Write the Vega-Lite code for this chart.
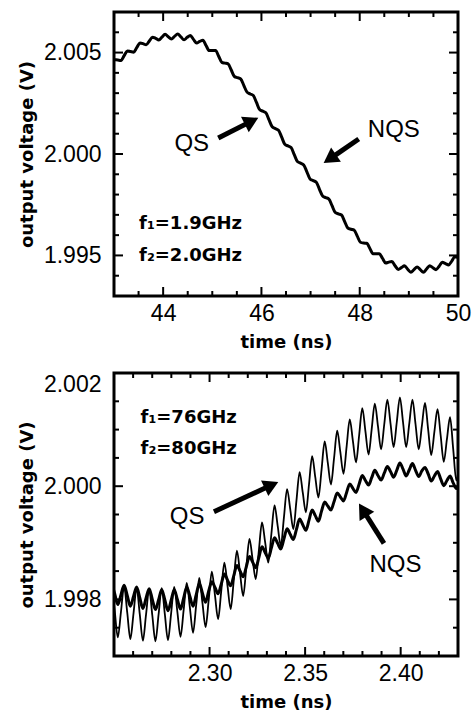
{
 "$schema": "https://vega.github.io/schema/vega-lite/v6.json",
 "background": "white",
 "padding": {"left": 16, "top": 10, "right": 0, "bottom": 5},
 "config": {
  "view": {"stroke": "black", "strokeWidth": 3},
  "axis": {"domain": false, "grid": false, "ticks": false, "labelFont": "Liberation Sans", "labelFontSize": 23, "labelColor": "black", "titleFont": "DejaVu Sans", "titleFontWeight": "bold", "titleFontSize": 18, "titleColor": "black"},
  "tick": {"opacity": 1, "color": "black", "thickness": 2}
 },
 "datasets": {
  "top": [
   {"t":43.014,"v":2.00465},{"t":43.078,"v":2.00463},{"t":43.143,"v":2.00461},{"t":43.207,"v":2.00485},
   {"t":43.271,"v":2.00508},{"t":43.335,"v":2.00505},{"t":43.399,"v":2.00502},{"t":43.463,"v":2.00524},
   {"t":43.527,"v":2.00547},{"t":43.591,"v":2.00544},{"t":43.655,"v":2.00538},{"t":43.719,"v":2.00557},
   {"t":43.784,"v":2.00576},{"t":43.848,"v":2.00570},{"t":43.912,"v":2.00562},{"t":43.976,"v":2.00576},
   {"t":44.040,"v":2.00590},{"t":44.104,"v":2.00578},{"t":44.168,"v":2.00567},{"t":44.232,"v":2.00580},
   {"t":44.296,"v":2.00591},{"t":44.361,"v":2.00577},{"t":44.425,"v":2.00563},{"t":44.489,"v":2.00575},
   {"t":44.553,"v":2.00584},{"t":44.617,"v":2.00565},{"t":44.681,"v":2.00547},{"t":44.745,"v":2.00555},
   {"t":44.809,"v":2.00561},{"t":44.873,"v":2.00535},{"t":44.937,"v":2.00510},{"t":45.002,"v":2.00510},
   {"t":45.066,"v":2.00510},{"t":45.130,"v":2.00482},{"t":45.194,"v":2.00452},{"t":45.258,"v":2.00448},
   {"t":45.322,"v":2.00444},{"t":45.386,"v":2.00414},{"t":45.450,"v":2.00382},{"t":45.514,"v":2.00376},
   {"t":45.578,"v":2.00370},{"t":45.643,"v":2.00337},{"t":45.707,"v":2.00305},{"t":45.771,"v":2.00296},
   {"t":45.835,"v":2.00288},{"t":45.899,"v":2.00254},{"t":45.963,"v":2.00219},{"t":46.027,"v":2.00211},
   {"t":46.091,"v":2.00203},{"t":46.155,"v":2.00168},{"t":46.219,"v":2.00134},{"t":46.284,"v":2.00125},
   {"t":46.348,"v":2.00117},{"t":46.412,"v":2.00083},{"t":46.476,"v":2.00048},{"t":46.540,"v":2.00040},
   {"t":46.604,"v":2.00032},{"t":46.668,"v":1.99997},{"t":46.732,"v":1.99963},{"t":46.796,"v":1.99955},
   {"t":46.860,"v":1.99946},{"t":46.925,"v":1.99912},{"t":46.989,"v":1.99877},{"t":47.053,"v":1.99869},
   {"t":47.117,"v":1.99861},{"t":47.181,"v":1.99826},{"t":47.245,"v":1.99793},{"t":47.309,"v":1.99785},
   {"t":47.373,"v":1.99778},{"t":47.437,"v":1.99745},{"t":47.501,"v":1.99712},{"t":47.566,"v":1.99705},
   {"t":47.630,"v":1.99699},{"t":47.694,"v":1.99667},{"t":47.758,"v":1.99635},{"t":47.822,"v":1.99629},
   {"t":47.886,"v":1.99625},{"t":47.950,"v":1.99595},{"t":48.014,"v":1.99565},{"t":48.078,"v":1.99561},
   {"t":48.142,"v":1.99560},{"t":48.207,"v":1.99534},{"t":48.271,"v":1.99508},{"t":48.335,"v":1.99508},
   {"t":48.399,"v":1.99508},{"t":48.463,"v":1.99486},{"t":48.527,"v":1.99463},{"t":48.591,"v":1.99467},
   {"t":48.655,"v":1.99470},{"t":48.719,"v":1.99449},{"t":48.783,"v":1.99431},{"t":48.848,"v":1.99440},
   {"t":48.912,"v":1.99449},{"t":48.976,"v":1.99432},{"t":49.040,"v":1.99417},{"t":49.104,"v":1.99430},
   {"t":49.168,"v":1.99443},{"t":49.232,"v":1.99430},{"t":49.296,"v":1.99417},{"t":49.360,"v":1.99433},
   {"t":49.424,"v":1.99449},{"t":49.489,"v":1.99439},{"t":49.553,"v":1.99430},{"t":49.617,"v":1.99447},
   {"t":49.681,"v":1.99466},{"t":49.745,"v":1.99460},{"t":49.809,"v":1.99453},{"t":49.873,"v":1.99472},
   {"t":49.937,"v":1.99494},{"t":50.001,"v":1.99490}
  ],
  "qs": [
   {"t":2.24872,"v":1.99827},{"t":2.25036,"v":1.99780},{"t":2.25200,"v":1.99733},{"t":2.25364,"v":1.99778},
   {"t":2.25528,"v":1.99823},{"t":2.25692,"v":1.99777},{"t":2.25856,"v":1.99730},{"t":2.26020,"v":1.99775},
   {"t":2.26184,"v":1.99820},{"t":2.26348,"v":1.99774},{"t":2.26512,"v":1.99727},{"t":2.26676,"v":1.99773},
   {"t":2.26840,"v":1.99818},{"t":2.27004,"v":1.99772},{"t":2.27168,"v":1.99726},{"t":2.27332,"v":1.99773},
   {"t":2.27496,"v":1.99820},{"t":2.27660,"v":1.99774},{"t":2.27824,"v":1.99728},{"t":2.27988,"v":1.99775},
   {"t":2.28152,"v":1.99822},{"t":2.28316,"v":1.99778},{"t":2.28480,"v":1.99734},{"t":2.28644,"v":1.99781},
   {"t":2.28808,"v":1.99829},{"t":2.28972,"v":1.99785},{"t":2.29136,"v":1.99741},{"t":2.29300,"v":1.99790},
   {"t":2.29464,"v":1.99838},{"t":2.29628,"v":1.99794},{"t":2.29792,"v":1.99751},{"t":2.29956,"v":1.99799},
   {"t":2.30120,"v":1.99849},{"t":2.30284,"v":1.99807},{"t":2.30448,"v":1.99765},{"t":2.30612,"v":1.99815},
   {"t":2.30776,"v":1.99865},{"t":2.30940,"v":1.99824},{"t":2.31104,"v":1.99783},{"t":2.31268,"v":1.99834},
   {"t":2.31432,"v":1.99886},{"t":2.31596,"v":1.99846},{"t":2.31760,"v":1.99806},{"t":2.31924,"v":1.99857},
   {"t":2.32088,"v":1.99907},{"t":2.32252,"v":1.99871},{"t":2.32416,"v":1.99836},{"t":2.32580,"v":1.99886},
   {"t":2.32744,"v":1.99936},{"t":2.32908,"v":1.99901},{"t":2.33072,"v":1.99865},{"t":2.33236,"v":1.99916},
   {"t":2.33400,"v":1.99966},{"t":2.33564,"v":1.99930},{"t":2.33728,"v":1.99895},{"t":2.33892,"v":1.99945},
   {"t":2.34056,"v":1.99995},{"t":2.34220,"v":1.99960},{"t":2.34384,"v":1.99924},{"t":2.34548,"v":1.99975},
   {"t":2.34712,"v":2.00025},{"t":2.34876,"v":1.99989},{"t":2.35040,"v":1.99954},{"t":2.35204,"v":2.00003},
   {"t":2.35368,"v":2.00053},{"t":2.35532,"v":2.00016},{"t":2.35696,"v":1.99980},{"t":2.35860,"v":2.00029},
   {"t":2.36024,"v":2.00079},{"t":2.36188,"v":2.00041},{"t":2.36352,"v":2.00003},{"t":2.36516,"v":2.00050},
   {"t":2.36680,"v":2.00098},{"t":2.36844,"v":2.00060},{"t":2.37008,"v":2.00022},{"t":2.37172,"v":2.00070},
   {"t":2.37336,"v":2.00118},{"t":2.37500,"v":2.00080},{"t":2.37664,"v":2.00042},{"t":2.37828,"v":2.00090},
   {"t":2.37992,"v":2.00138},{"t":2.38156,"v":2.00097},{"t":2.38320,"v":2.00056},{"t":2.38484,"v":2.00101},
   {"t":2.38648,"v":2.00146},{"t":2.38812,"v":2.00106},{"t":2.38976,"v":2.00065},{"t":2.39140,"v":2.00109},
   {"t":2.39304,"v":2.00153},{"t":2.39468,"v":2.00111},{"t":2.39632,"v":2.00069},{"t":2.39796,"v":2.00113},
   {"t":2.39960,"v":2.00157},{"t":2.40124,"v":2.00113},{"t":2.40288,"v":2.00069},{"t":2.40452,"v":2.00111},
   {"t":2.40616,"v":2.00153},{"t":2.40780,"v":2.00109},{"t":2.40944,"v":2.00065},{"t":2.41108,"v":2.00106},
   {"t":2.41272,"v":2.00147},{"t":2.41436,"v":2.00101},{"t":2.41600,"v":2.00055},{"t":2.41764,"v":2.00096},
   {"t":2.41928,"v":2.00136},{"t":2.42092,"v":2.00090},{"t":2.42256,"v":2.00043},{"t":2.42420,"v":2.00083},
   {"t":2.42584,"v":2.00122},{"t":2.42748,"v":2.00066},{"t":2.42912,"v":2.00010},{"t":2.43076,"v":2.00050}
  ],
  "nqs": [
   {"t":2.24872,"v":1.99829},{"t":2.25036,"v":1.99810},{"t":2.25200,"v":1.99791},{"t":2.25364,"v":1.99808},
   {"t":2.25528,"v":1.99825},{"t":2.25692,"v":1.99807},{"t":2.25856,"v":1.99788},{"t":2.26020,"v":1.99805},
   {"t":2.26184,"v":1.99822},{"t":2.26348,"v":1.99803},{"t":2.26512,"v":1.99784},{"t":2.26676,"v":1.99802},
   {"t":2.26840,"v":1.99819},{"t":2.27004,"v":1.99800},{"t":2.27168,"v":1.99782},{"t":2.27332,"v":1.99799},
   {"t":2.27496,"v":1.99817},{"t":2.27660,"v":1.99799},{"t":2.27824,"v":1.99780},{"t":2.27988,"v":1.99798},
   {"t":2.28152,"v":1.99817},{"t":2.28316,"v":1.99800},{"t":2.28480,"v":1.99783},{"t":2.28644,"v":1.99802},
   {"t":2.28808,"v":1.99822},{"t":2.28972,"v":1.99805},{"t":2.29136,"v":1.99788},{"t":2.29300,"v":1.99808},
   {"t":2.29464,"v":1.99828},{"t":2.29628,"v":1.99811},{"t":2.29792,"v":1.99795},{"t":2.29956,"v":1.99815},
   {"t":2.30120,"v":1.99831},{"t":2.30284,"v":1.99821},{"t":2.30448,"v":1.99810},{"t":2.30612,"v":1.99827},
   {"t":2.30776,"v":1.99845},{"t":2.30940,"v":1.99834},{"t":2.31104,"v":1.99824},{"t":2.31268,"v":1.99842},
   {"t":2.31432,"v":1.99860},{"t":2.31596,"v":1.99850},{"t":2.31760,"v":1.99840},{"t":2.31924,"v":1.99858},
   {"t":2.32088,"v":1.99876},{"t":2.32252,"v":1.99866},{"t":2.32416,"v":1.99856},{"t":2.32580,"v":1.99874},
   {"t":2.32744,"v":1.99893},{"t":2.32908,"v":1.99883},{"t":2.33072,"v":1.99873},{"t":2.33236,"v":1.99891},
   {"t":2.33400,"v":1.99909},{"t":2.33564,"v":1.99899},{"t":2.33728,"v":1.99889},{"t":2.33892,"v":1.99907},
   {"t":2.34056,"v":1.99925},{"t":2.34220,"v":1.99915},{"t":2.34384,"v":1.99906},{"t":2.34548,"v":1.99924},
   {"t":2.34712,"v":1.99942},{"t":2.34876,"v":1.99932},{"t":2.35040,"v":1.99922},{"t":2.35204,"v":1.99940},
   {"t":2.35368,"v":1.99958},{"t":2.35532,"v":1.99948},{"t":2.35696,"v":1.99938},{"t":2.35860,"v":1.99956},
   {"t":2.36024,"v":1.99972},{"t":2.36188,"v":1.99965},{"t":2.36352,"v":1.99958},{"t":2.36516,"v":1.99973},
   {"t":2.36680,"v":1.99988},{"t":2.36844,"v":1.99981},{"t":2.37008,"v":1.99974},{"t":2.37172,"v":1.99989},
   {"t":2.37336,"v":2.00004},{"t":2.37500,"v":1.99996},{"t":2.37664,"v":1.99989},{"t":2.37828,"v":2.00004},
   {"t":2.37992,"v":2.00019},{"t":2.38156,"v":2.00010},{"t":2.38320,"v":2.00002},{"t":2.38484,"v":2.00015},
   {"t":2.38648,"v":2.00028},{"t":2.38812,"v":2.00019},{"t":2.38976,"v":2.00011},{"t":2.39140,"v":2.00023},
   {"t":2.39304,"v":2.00035},{"t":2.39468,"v":2.00026},{"t":2.39632,"v":2.00016},{"t":2.39796,"v":2.00028},
   {"t":2.39960,"v":2.00041},{"t":2.40124,"v":2.00030},{"t":2.40288,"v":2.00018},{"t":2.40452,"v":2.00029},
   {"t":2.40616,"v":2.00040},{"t":2.40780,"v":2.00028},{"t":2.40944,"v":2.00017},{"t":2.41108,"v":2.00027},
   {"t":2.41272,"v":2.00033},{"t":2.41436,"v":2.00022},{"t":2.41600,"v":2.00009},{"t":2.41764,"v":2.00018},
   {"t":2.41928,"v":2.00026},{"t":2.42092,"v":2.00013},{"t":2.42256,"v":2.00001},{"t":2.42420,"v":2.00010},
   {"t":2.42584,"v":2.00018},{"t":2.42748,"v":2.00006},{"t":2.42912,"v":1.99996},{"t":2.43076,"v":2.00002}
  ],
  "notes": [
   {"panel":"top","kind":"f","x":43.51,"y":1.99653,"text":"f₁=1.9GHz"},
   {"panel":"top","kind":"f","x":43.51,"y":1.99495,"text":"f₂=2.0GHz"},
   {"panel":"top","kind":"lbl","x":44.582,"y":2.0005,"text":"QS"},
   {"panel":"top","kind":"lbl","x":48.694,"y":2.00119,"text":"NQS"},
   {"panel":"bottom","kind":"f","x":2.2639,"y":2.0012,"text":"f₁=76GHz"},
   {"panel":"bottom","kind":"f","x":2.2639,"y":2.00066,"text":"f₂=80GHz"},
   {"panel":"bottom","kind":"lbl","x":2.2883,"y":1.99946,"text":"QS"},
   {"panel":"bottom","kind":"lbl","x":2.3973,"y":1.99861,"text":"NQS"}
  ],
  "arrows": [
   {"panel":"top","id":"QS","x":45.122,"y":2.00079,"hx":45.80,"hy":2.00162},
   {"panel":"top","id":"NQS","x":47.98,"y":2.00074,"hx":47.392,"hy":1.99976},
   {"panel":"bottom","id":"QS","x":2.3023,"y":1.99955,"hx":2.3324,"hy":2.00002},
   {"panel":"bottom","id":"NQS","x":2.39126,"y":1.99899,"hx":2.38026,"hy":1.99958}
  ],
  "ticks": [
   {"p":"top","a":"x","k":"M","v":44,"e":1.993},{"p":"top","a":"x","k":"M","v":46,"e":1.993},{"p":"top","a":"x","k":"M","v":48,"e":1.993},
   {"p":"top","a":"x","k":"M","v":44,"e":2.007},{"p":"top","a":"x","k":"M","v":46,"e":2.007},{"p":"top","a":"x","k":"M","v":48,"e":2.007},
   {"p":"top","a":"x","k":"m","v":43.5,"e":1.993},{"p":"top","a":"x","k":"m","v":44.5,"e":1.993},{"p":"top","a":"x","k":"m","v":45,"e":1.993},
   {"p":"top","a":"x","k":"m","v":45.5,"e":1.993},{"p":"top","a":"x","k":"m","v":46.5,"e":1.993},{"p":"top","a":"x","k":"m","v":47,"e":1.993},
   {"p":"top","a":"x","k":"m","v":47.5,"e":1.993},{"p":"top","a":"x","k":"m","v":48.5,"e":1.993},{"p":"top","a":"x","k":"m","v":49,"e":1.993},
   {"p":"top","a":"x","k":"m","v":49.5,"e":1.993},
   {"p":"top","a":"x","k":"m","v":43.5,"e":2.007},{"p":"top","a":"x","k":"m","v":44.5,"e":2.007},{"p":"top","a":"x","k":"m","v":45,"e":2.007},
   {"p":"top","a":"x","k":"m","v":45.5,"e":2.007},{"p":"top","a":"x","k":"m","v":46.5,"e":2.007},{"p":"top","a":"x","k":"m","v":47,"e":2.007},
   {"p":"top","a":"x","k":"m","v":47.5,"e":2.007},{"p":"top","a":"x","k":"m","v":48.5,"e":2.007},{"p":"top","a":"x","k":"m","v":49,"e":2.007},
   {"p":"top","a":"x","k":"m","v":49.5,"e":2.007},
   {"p":"top","a":"y","k":"M","v":1.995,"e":43},{"p":"top","a":"y","k":"M","v":2.0,"e":43},{"p":"top","a":"y","k":"M","v":2.005,"e":43},
   {"p":"top","a":"y","k":"M","v":1.995,"e":50},{"p":"top","a":"y","k":"M","v":2.0,"e":50},{"p":"top","a":"y","k":"M","v":2.005,"e":50},
   {"p":"top","a":"y","k":"m","v":1.994,"e":43},{"p":"top","a":"y","k":"m","v":1.996,"e":43},{"p":"top","a":"y","k":"m","v":1.997,"e":43},
   {"p":"top","a":"y","k":"m","v":1.998,"e":43},{"p":"top","a":"y","k":"m","v":1.999,"e":43},{"p":"top","a":"y","k":"m","v":2.001,"e":43},
   {"p":"top","a":"y","k":"m","v":2.002,"e":43},{"p":"top","a":"y","k":"m","v":2.003,"e":43},{"p":"top","a":"y","k":"m","v":2.004,"e":43},
   {"p":"top","a":"y","k":"m","v":2.006,"e":43},
   {"p":"top","a":"y","k":"m","v":1.994,"e":50},{"p":"top","a":"y","k":"m","v":1.996,"e":50},{"p":"top","a":"y","k":"m","v":1.997,"e":50},
   {"p":"top","a":"y","k":"m","v":1.998,"e":50},{"p":"top","a":"y","k":"m","v":1.999,"e":50},{"p":"top","a":"y","k":"m","v":2.001,"e":50},
   {"p":"top","a":"y","k":"m","v":2.002,"e":50},{"p":"top","a":"y","k":"m","v":2.003,"e":50},{"p":"top","a":"y","k":"m","v":2.004,"e":50},
   {"p":"top","a":"y","k":"m","v":2.006,"e":50},
   {"p":"bottom","a":"x","k":"M","v":2.30,"e":1.997},{"p":"bottom","a":"x","k":"M","v":2.35,"e":1.997},{"p":"bottom","a":"x","k":"M","v":2.40,"e":1.997},
   {"p":"bottom","a":"x","k":"M","v":2.30,"e":2.002},{"p":"bottom","a":"x","k":"M","v":2.35,"e":2.002},{"p":"bottom","a":"x","k":"M","v":2.40,"e":2.002},
   {"p":"bottom","a":"x","k":"m","v":2.26,"e":1.997},{"p":"bottom","a":"x","k":"m","v":2.27,"e":1.997},{"p":"bottom","a":"x","k":"m","v":2.28,"e":1.997},
   {"p":"bottom","a":"x","k":"m","v":2.29,"e":1.997},{"p":"bottom","a":"x","k":"m","v":2.31,"e":1.997},{"p":"bottom","a":"x","k":"m","v":2.32,"e":1.997},
   {"p":"bottom","a":"x","k":"m","v":2.33,"e":1.997},{"p":"bottom","a":"x","k":"m","v":2.34,"e":1.997},{"p":"bottom","a":"x","k":"m","v":2.36,"e":1.997},
   {"p":"bottom","a":"x","k":"m","v":2.37,"e":1.997},{"p":"bottom","a":"x","k":"m","v":2.38,"e":1.997},{"p":"bottom","a":"x","k":"m","v":2.39,"e":1.997},
   {"p":"bottom","a":"x","k":"m","v":2.41,"e":1.997},{"p":"bottom","a":"x","k":"m","v":2.42,"e":1.997},
   {"p":"bottom","a":"x","k":"m","v":2.26,"e":2.002},{"p":"bottom","a":"x","k":"m","v":2.27,"e":2.002},{"p":"bottom","a":"x","k":"m","v":2.28,"e":2.002},
   {"p":"bottom","a":"x","k":"m","v":2.29,"e":2.002},{"p":"bottom","a":"x","k":"m","v":2.31,"e":2.002},{"p":"bottom","a":"x","k":"m","v":2.32,"e":2.002},
   {"p":"bottom","a":"x","k":"m","v":2.33,"e":2.002},{"p":"bottom","a":"x","k":"m","v":2.34,"e":2.002},{"p":"bottom","a":"x","k":"m","v":2.36,"e":2.002},
   {"p":"bottom","a":"x","k":"m","v":2.37,"e":2.002},{"p":"bottom","a":"x","k":"m","v":2.38,"e":2.002},{"p":"bottom","a":"x","k":"m","v":2.39,"e":2.002},
   {"p":"bottom","a":"x","k":"m","v":2.41,"e":2.002},{"p":"bottom","a":"x","k":"m","v":2.42,"e":2.002},
   {"p":"bottom","a":"y","k":"M","v":1.998,"e":2.25},{"p":"bottom","a":"y","k":"M","v":2.0,"e":2.25},
   {"p":"bottom","a":"y","k":"M","v":1.998,"e":2.43},{"p":"bottom","a":"y","k":"M","v":2.0,"e":2.43},
   {"p":"bottom","a":"y","k":"m","v":1.9975,"e":2.25},{"p":"bottom","a":"y","k":"m","v":1.9985,"e":2.25},{"p":"bottom","a":"y","k":"m","v":1.999,"e":2.25},
   {"p":"bottom","a":"y","k":"m","v":1.9995,"e":2.25},{"p":"bottom","a":"y","k":"m","v":2.0005,"e":2.25},{"p":"bottom","a":"y","k":"m","v":2.001,"e":2.25},
   {"p":"bottom","a":"y","k":"m","v":2.0015,"e":2.25},
   {"p":"bottom","a":"y","k":"m","v":1.9975,"e":2.43},{"p":"bottom","a":"y","k":"m","v":1.9985,"e":2.43},{"p":"bottom","a":"y","k":"m","v":1.999,"e":2.43},
   {"p":"bottom","a":"y","k":"m","v":1.9995,"e":2.43},{"p":"bottom","a":"y","k":"m","v":2.0005,"e":2.43},{"p":"bottom","a":"y","k":"m","v":2.001,"e":2.43},
   {"p":"bottom","a":"y","k":"m","v":2.0015,"e":2.43}
  ]
 },
 "bounds": "flush",
 "spacing": 77,
 "vconcat": [
  {
   "width": 344, "height": 284,
   "resolve": {"axis": {"x": "independent", "y": "independent"}},
   "layer": [
    {
     "data": {"name": "top"},
     "mark": {"type": "line", "color": "black", "strokeWidth": 3, "interpolate": "monotone", "clip": true},
     "encoding": {
      "x": {"field": "t", "type": "quantitative", "scale": {"domain": [43, 50], "nice": false, "zero": false},
       "axis": {"orient": "bottom", "title": "time (ns)", "values": [44,46,48,50], "format": "d", "labelFlush": false, "labelPadding": 6, "titlePadding": 8}},
      "y": {"field": "v", "type": "quantitative", "scale": {"domain": [1.993, 2.007], "nice": false, "zero": false},
       "axis": {"orient": "left", "title": "output voltage (V)", "values": [1.995,2.0,2.005], "format": ".3f", "labelFlush": false, "labelPadding": 13, "titlePadding": 7}}
     }
    },
    {
     "data": {"name": "ticks"},
     "transform": [{"filter": "datum.p === 'top' && datum.a === 'x' && datum.k === 'M'"}],
     "mark": {"type": "tick", "orient": "vertical", "size": 18, "clip": true},
     "encoding": {"x": {"field": "v", "type": "quantitative", "axis": null}, "y": {"field": "e", "type": "quantitative", "axis": null}}
    },
    {
     "data": {"name": "ticks"},
     "transform": [{"filter": "datum.p === 'top' && datum.a === 'x' && datum.k === 'm'"}],
     "mark": {"type": "tick", "orient": "vertical", "size": 10, "clip": true},
     "encoding": {"x": {"field": "v", "type": "quantitative", "axis": null}, "y": {"field": "e", "type": "quantitative", "axis": null}}
    },
    {
     "data": {"name": "ticks"},
     "transform": [{"filter": "datum.p === 'top' && datum.a === 'y' && datum.k === 'M'"}],
     "mark": {"type": "tick", "orient": "horizontal", "size": 18, "clip": true},
     "encoding": {"y": {"field": "v", "type": "quantitative", "axis": null}, "x": {"field": "e", "type": "quantitative", "axis": null}}
    },
    {
     "data": {"name": "ticks"},
     "transform": [{"filter": "datum.p === 'top' && datum.a === 'y' && datum.k === 'm'"}],
     "mark": {"type": "tick", "orient": "horizontal", "size": 10, "clip": true},
     "encoding": {"y": {"field": "v", "type": "quantitative", "axis": null}, "x": {"field": "e", "type": "quantitative", "axis": null}}
    },
    {
     "data": {"name": "notes"},
     "transform": [{"filter": "datum.panel === 'top' && datum.kind === 'f'"}],
     "mark": {"type": "text", "align": "left", "baseline": "middle", "font": "DejaVu Sans", "fontWeight": "bold", "fontSize": 18, "color": "black"},
     "encoding": {
      "x": {"field": "x", "type": "quantitative", "axis": null},
      "y": {"field": "y", "type": "quantitative", "axis": null},
      "text": {"field": "text"}
     }
    },
    {
     "data": {"name": "notes"},
     "transform": [{"filter": "datum.panel === 'top' && datum.kind === 'lbl'"}],
     "mark": {"type": "text", "align": "center", "baseline": "middle", "font": "Liberation Sans", "fontSize": 24, "color": "black"},
     "encoding": {
      "x": {"field": "x", "type": "quantitative", "axis": null},
      "y": {"field": "y", "type": "quantitative", "axis": null},
      "text": {"field": "text"}
     }
    },
    {
     "data": {"name": "arrows"},
     "transform": [{"filter": "datum.panel === 'top'"}],
     "mark": {"type": "rule", "color": "black", "strokeWidth": 5},
     "encoding": {
      "x": {"field": "x", "type": "quantitative", "axis": null},
      "y": {"field": "y", "type": "quantitative", "axis": null},
      "x2": {"field": "hx"},
      "y2": {"field": "hy"}
     }
    },
    {
     "data": {"name": "arrows"},
     "transform": [{"filter": "datum.panel === 'top' && datum.id === 'QS'"}],
     "mark": {"type": "point", "shape": "triangle-up", "filled": true, "color": "black", "opacity": 1, "size": 300, "angle": 63.4},
     "encoding": {
      "x": {"field": "hx", "type": "quantitative", "axis": null},
      "y": {"field": "hy", "type": "quantitative", "axis": null}
     }
    },
    {
     "data": {"name": "arrows"},
     "transform": [{"filter": "datum.panel === 'top' && datum.id === 'NQS'"}],
     "mark": {"type": "point", "shape": "triangle-up", "filled": true, "color": "black", "opacity": 1, "size": 300, "angle": 235.5},
     "encoding": {
      "x": {"field": "hx", "type": "quantitative", "axis": null},
      "y": {"field": "hy", "type": "quantitative", "axis": null}
     }
    }
   ]
  },
  {
   "width": 344, "height": 283,
   "resolve": {"axis": {"x": "independent", "y": "independent"}},
   "layer": [
    {
     "data": {"name": "qs"},
     "mark": {"type": "line", "color": "black", "strokeWidth": 1.8, "interpolate": "monotone", "clip": true},
     "encoding": {
      "x": {"field": "t", "type": "quantitative", "scale": {"domain": [2.25, 2.43], "nice": false, "zero": false},
       "axis": {"orient": "bottom", "title": "time (ns)", "values": [2.3,2.35,2.4], "format": ".2f", "labelFlush": false, "labelPadding": 6, "titlePadding": 8}},
      "y": {"field": "v", "type": "quantitative", "scale": {"domain": [1.997, 2.002], "nice": false, "zero": false},
       "axis": {"orient": "left", "title": "output voltage (V)", "values": [1.998,2.0,2.002], "format": ".3f", "labelFlush": true, "labelPadding": 13, "titlePadding": 7}}
     }
    },
    {
     "data": {"name": "nqs"},
     "mark": {"type": "line", "color": "black", "strokeWidth": 3, "interpolate": "monotone", "clip": true},
     "encoding": {
      "x": {"field": "t", "type": "quantitative", "axis": null},
      "y": {"field": "v", "type": "quantitative", "axis": null}
     }
    },
    {
     "data": {"name": "ticks"},
     "transform": [{"filter": "datum.p === 'bottom' && datum.a === 'x' && datum.k === 'M'"}],
     "mark": {"type": "tick", "orient": "vertical", "size": 18, "clip": true},
     "encoding": {"x": {"field": "v", "type": "quantitative", "axis": null}, "y": {"field": "e", "type": "quantitative", "axis": null}}
    },
    {
     "data": {"name": "ticks"},
     "transform": [{"filter": "datum.p === 'bottom' && datum.a === 'x' && datum.k === 'm'"}],
     "mark": {"type": "tick", "orient": "vertical", "size": 10, "clip": true},
     "encoding": {"x": {"field": "v", "type": "quantitative", "axis": null}, "y": {"field": "e", "type": "quantitative", "axis": null}}
    },
    {
     "data": {"name": "ticks"},
     "transform": [{"filter": "datum.p === 'bottom' && datum.a === 'y' && datum.k === 'M'"}],
     "mark": {"type": "tick", "orient": "horizontal", "size": 18, "clip": true},
     "encoding": {"y": {"field": "v", "type": "quantitative", "axis": null}, "x": {"field": "e", "type": "quantitative", "axis": null}}
    },
    {
     "data": {"name": "ticks"},
     "transform": [{"filter": "datum.p === 'bottom' && datum.a === 'y' && datum.k === 'm'"}],
     "mark": {"type": "tick", "orient": "horizontal", "size": 10, "clip": true},
     "encoding": {"y": {"field": "v", "type": "quantitative", "axis": null}, "x": {"field": "e", "type": "quantitative", "axis": null}}
    },
    {
     "data": {"name": "notes"},
     "transform": [{"filter": "datum.panel === 'bottom' && datum.kind === 'f'"}],
     "mark": {"type": "text", "align": "left", "baseline": "middle", "font": "DejaVu Sans", "fontWeight": "bold", "fontSize": 18, "color": "black"},
     "encoding": {
      "x": {"field": "x", "type": "quantitative", "axis": null},
      "y": {"field": "y", "type": "quantitative", "axis": null},
      "text": {"field": "text"}
     }
    },
    {
     "data": {"name": "notes"},
     "transform": [{"filter": "datum.panel === 'bottom' && datum.kind === 'lbl'"}],
     "mark": {"type": "text", "align": "center", "baseline": "middle", "font": "Liberation Sans", "fontSize": 24, "color": "black"},
     "encoding": {
      "x": {"field": "x", "type": "quantitative", "axis": null},
      "y": {"field": "y", "type": "quantitative", "axis": null},
      "text": {"field": "text"}
     }
    },
    {
     "data": {"name": "arrows"},
     "transform": [{"filter": "datum.panel === 'bottom'"}],
     "mark": {"type": "rule", "color": "black", "strokeWidth": 5},
     "encoding": {
      "x": {"field": "x", "type": "quantitative", "axis": null},
      "y": {"field": "y", "type": "quantitative", "axis": null},
      "x2": {"field": "hx"},
      "y2": {"field": "hy"}
     }
    },
    {
     "data": {"name": "arrows"},
     "transform": [{"filter": "datum.panel === 'bottom' && datum.id === 'QS'"}],
     "mark": {"type": "point", "shape": "triangle-up", "filled": true, "color": "black", "opacity": 1, "size": 300, "angle": 65},
     "encoding": {
      "x": {"field": "hx", "type": "quantitative", "axis": null},
      "y": {"field": "hy", "type": "quantitative", "axis": null}
     }
    },
    {
     "data": {"name": "arrows"},
     "transform": [{"filter": "datum.panel === 'bottom' && datum.id === 'NQS'"}],
     "mark": {"type": "point", "shape": "triangle-up", "filled": true, "color": "black", "opacity": 1, "size": 300, "angle": 328},
     "encoding": {
      "x": {"field": "hx", "type": "quantitative", "axis": null},
      "y": {"field": "hy", "type": "quantitative", "axis": null}
     }
    }
   ]
  }
 ]
}
